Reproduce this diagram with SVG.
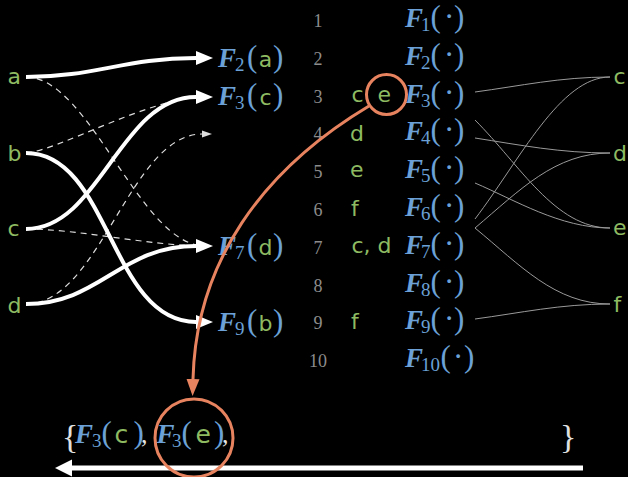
<svg xmlns="http://www.w3.org/2000/svg" width="628" height="477" viewBox="0 0 628 477">
<style>
.mono{font-family:"DejaVu Sans",sans-serif;font-size:22px;fill:#8ebb62}
.big{font-size:25px}
.F{font-family:"Liberation Serif",serif;font-weight:bold;font-style:italic;font-size:27px;fill:#6ba1d6}
.sb{font-family:"Liberation Serif",serif;font-size:19px;fill:#6ba1d6}
.pr{font-family:"Liberation Serif",serif;font-size:31px;fill:#6ba1d6}
.cm{font-family:"Liberation Serif",serif;font-size:26px;fill:#e6e6e6}
.num{font-family:"Liberation Serif",serif;font-size:18px;fill:#8c8c8c;text-anchor:middle}
.br{font-family:"Liberation Serif",serif;font-size:34px;fill:#e0e0e0}
.solid{fill:none;stroke:#fff;stroke-width:4}
.dash{fill:none;stroke:#dddddd;stroke-width:1.2;stroke-dasharray:6 5}
.thin{fill:none;stroke:#9a9a9a;stroke-width:1}
.orange{fill:none;stroke:#e8835f;stroke-width:3}
</style>
<defs>
<marker id="ah" markerUnits="userSpaceOnUse" viewBox="0 0 18 14" markerWidth="18" markerHeight="14" refX="0" refY="7" orient="auto"><path d="M0,0 L17,7 L0,14 z" fill="#fff"/></marker>
<marker id="ahs" markerUnits="userSpaceOnUse" viewBox="0 0 11 8" markerWidth="11" markerHeight="8" refX="0" refY="4" orient="auto"><path d="M0,0.5 L10,4 L0,7.5 z" fill="#dddddd"/></marker>
<marker id="aho" markerUnits="userSpaceOnUse" viewBox="0 0 18 14" markerWidth="18" markerHeight="14" refX="0" refY="7" orient="auto"><path d="M0,0.5 L17,7 L0,13.5 z" fill="#e8835f"/></marker>
</defs>
<rect width="628" height="477" fill="#000"/>

<g id="connectors">
<path class="dash" d="M26,77 C90,77 140,246 205,246"/>
<path class="dash" d="M26,153 C60,150 150,97 205,97"/>
<path class="dash" d="M26,229 C80,229 150,246 205,246"/>
<path class="dash" d="M26,304 C100,304 130,134 202,134" marker-end="url(#ahs)"/>
<path class="solid" d="M26,77 C95,77 125,58 196,58" marker-end="url(#ah)"/>
<path class="solid" d="M26,153 C110,153 110,322 196,322" marker-end="url(#ah)"/>
<path class="solid" d="M26,229 C100,229 120,97 196,97" marker-end="url(#ah)"/>
<path class="solid" d="M26,304 C100,304 120,246 196,246" marker-end="url(#ah)"/>
<path class="thin" d="M475,92 C520,86 560,77 610,77"/>
<path class="thin" d="M475,120 C520,165 555,228 610,228"/>
<path class="thin" d="M475,138 C520,145 560,153 610,153"/>
<path class="thin" d="M475,183 C515,200 560,228 610,228"/>
<path class="thin" d="M475,219 C520,160 560,77 610,77"/>
<path class="thin" d="M475,228 C520,190 555,153 610,153"/>
<path class="thin" d="M475,228 C520,265 555,304 610,304"/>
<path class="thin" d="M475,319 C520,313 560,304 610,304"/>
<line x1="583" y1="468" x2="70" y2="468" stroke="#fff" stroke-width="5"/>
<polygon points="55,468 72,459.5 72,476.5" fill="#fff"/>
</g>

<g id="left-keys">
<g id="key-a"><text class="mono" x="7.5" y="84">a</text></g>
<g id="key-b"><text class="mono" x="7.5" y="161">b</text></g>
<g id="key-c"><text class="mono" x="7.5" y="236">c</text></g>
<g id="key-d"><text class="mono" x="7.5" y="313">d</text></g>
</g>

<g id="left-labels">
<g id="label-F2a"><text y="67"><tspan class="F" x="218">F</tspan><tspan class="sb" x="235" dy="4">2</tspan><tspan class="pr" x="247" dy="-4">(</tspan><tspan class="mono" x="258.7">a</tspan><tspan class="pr" x="273">)</tspan></text></g>
<g id="label-F3c"><text y="105"><tspan class="F" x="218">F</tspan><tspan class="sb" x="235" dy="4">3</tspan><tspan class="pr" x="247" dy="-4">(</tspan><tspan class="mono" x="259.5">c</tspan><tspan class="pr" x="273">)</tspan></text></g>
<g id="label-F7d"><text y="255"><tspan class="F" x="218">F</tspan><tspan class="sb" x="235" dy="4">7</tspan><tspan class="pr" x="247" dy="-4">(</tspan><tspan class="mono" x="258.5">d</tspan><tspan class="pr" x="273">)</tspan></text></g>
<g id="label-F9b"><text y="331"><tspan class="F" x="218">F</tspan><tspan class="sb" x="235" dy="4">9</tspan><tspan class="pr" x="247" dy="-4">(</tspan><tspan class="mono" x="258.5">b</tspan><tspan class="pr" x="273">)</tspan></text></g>
</g>

<g id="table">
<g id="row1"><text class="num" x="318" y="27">1</text><text y="27"><tspan class="F" x="405">F</tspan><tspan class="sb" x="421" dy="4">1</tspan><tspan class="pr" x="430.5" dy="-4">(</tspan><tspan class="pr" x="444">·</tspan><tspan class="pr" x="454">)</tspan></text></g>
<g id="row2"><text class="num" x="318" y="65">2</text><text y="65"><tspan class="F" x="405">F</tspan><tspan class="sb" x="421" dy="4">2</tspan><tspan class="pr" x="430.5" dy="-4">(</tspan><tspan class="pr" x="444">·</tspan><tspan class="pr" x="454">)</tspan></text></g>
<g id="row3"><text class="num" x="318" y="103">3</text><text class="mono" x="351.5" y="102">c</text><text class="mono" x="377.5" y="102">e</text><text y="103"><tspan class="F" x="405">F</tspan><tspan class="sb" x="421" dy="4">3</tspan><tspan class="pr" x="430.5" dy="-4">(</tspan><tspan class="pr" x="444">·</tspan><tspan class="pr" x="454">)</tspan></text></g>
<g id="row4"><text class="num" x="318" y="140">4</text><text class="mono" x="350" y="141">d</text><text y="140"><tspan class="F" x="405">F</tspan><tspan class="sb" x="421" dy="4">4</tspan><tspan class="pr" x="430.5" dy="-4">(</tspan><tspan class="pr" x="444">·</tspan><tspan class="pr" x="454">)</tspan></text></g>
<g id="row5"><text class="num" x="318" y="178">5</text><text class="mono" x="350" y="177">e</text><text y="178"><tspan class="F" x="405">F</tspan><tspan class="sb" x="421" dy="4">5</tspan><tspan class="pr" x="430.5" dy="-4">(</tspan><tspan class="pr" x="444">·</tspan><tspan class="pr" x="454">)</tspan></text></g>
<g id="row6"><text class="num" x="318" y="216">6</text><text class="mono" x="351" y="216">f</text><text y="216"><tspan class="F" x="405">F</tspan><tspan class="sb" x="421" dy="4">6</tspan><tspan class="pr" x="430.5" dy="-4">(</tspan><tspan class="pr" x="444">·</tspan><tspan class="pr" x="454">)</tspan></text></g>
<g id="row7"><text class="num" x="318" y="254">7</text><text class="mono" x="351.5" y="253">c, d</text><text y="254"><tspan class="F" x="405">F</tspan><tspan class="sb" x="421" dy="4">7</tspan><tspan class="pr" x="430.5" dy="-4">(</tspan><tspan class="pr" x="444">·</tspan><tspan class="pr" x="454">)</tspan></text></g>
<g id="row8"><text class="num" x="318" y="292">8</text><text y="292"><tspan class="F" x="405">F</tspan><tspan class="sb" x="421" dy="4">8</tspan><tspan class="pr" x="430.5" dy="-4">(</tspan><tspan class="pr" x="444">·</tspan><tspan class="pr" x="454">)</tspan></text></g>
<g id="row9"><text class="num" x="318" y="329">9</text><text class="mono" x="351" y="329">f</text><text y="329"><tspan class="F" x="405">F</tspan><tspan class="sb" x="421" dy="4">9</tspan><tspan class="pr" x="430.5" dy="-4">(</tspan><tspan class="pr" x="444">·</tspan><tspan class="pr" x="454">)</tspan></text></g>
<g id="row10"><text class="num" x="318" y="367">10</text><text y="367"><tspan class="F" x="405">F</tspan><tspan class="sb" x="421" dy="4">10</tspan><tspan class="pr" x="440.5" dy="-4">(</tspan><tspan class="pr" x="453">·</tspan><tspan class="pr" x="464">)</tspan></text></g>
</g>

<g id="right-keys">
<g id="rkey-c"><text class="mono" x="613.5" y="84">c</text></g>
<g id="rkey-d"><text class="mono" x="613" y="161">d</text></g>
<g id="rkey-e"><text class="mono" x="613" y="235">e</text></g>
<g id="rkey-f"><text class="mono" x="613.5" y="312">f</text></g>
</g>

<g id="result">
<text class="br" x="62" y="448">{</text>
<text y="443"><tspan class="F" x="75">F</tspan><tspan class="sb" x="92" dy="4">3</tspan><tspan class="pr" x="101.5" dy="-4">(</tspan><tspan class="mono big" x="114.5">c</tspan><tspan class="pr" x="133.5">)</tspan><tspan class="cm" x="141">,</tspan><tspan class="F" x="156.5">F</tspan><tspan class="sb" x="172" dy="4">3</tspan><tspan class="pr" x="181.5" dy="-4">(</tspan><tspan class="mono big" x="195.5">e</tspan><tspan class="pr" x="214">)</tspan><tspan class="cm" x="222">,</tspan></text>
<text class="br" x="560" y="448">}</text>
</g>

<g id="highlight">
<circle class="orange" cx="386.5" cy="94.5" r="20"/>
<circle class="orange" cx="194" cy="438" r="39"/>
<path class="orange" d="M369,106 C262,170 196,262 193,379" marker-end="url(#aho)"/>
</g>
</svg>
